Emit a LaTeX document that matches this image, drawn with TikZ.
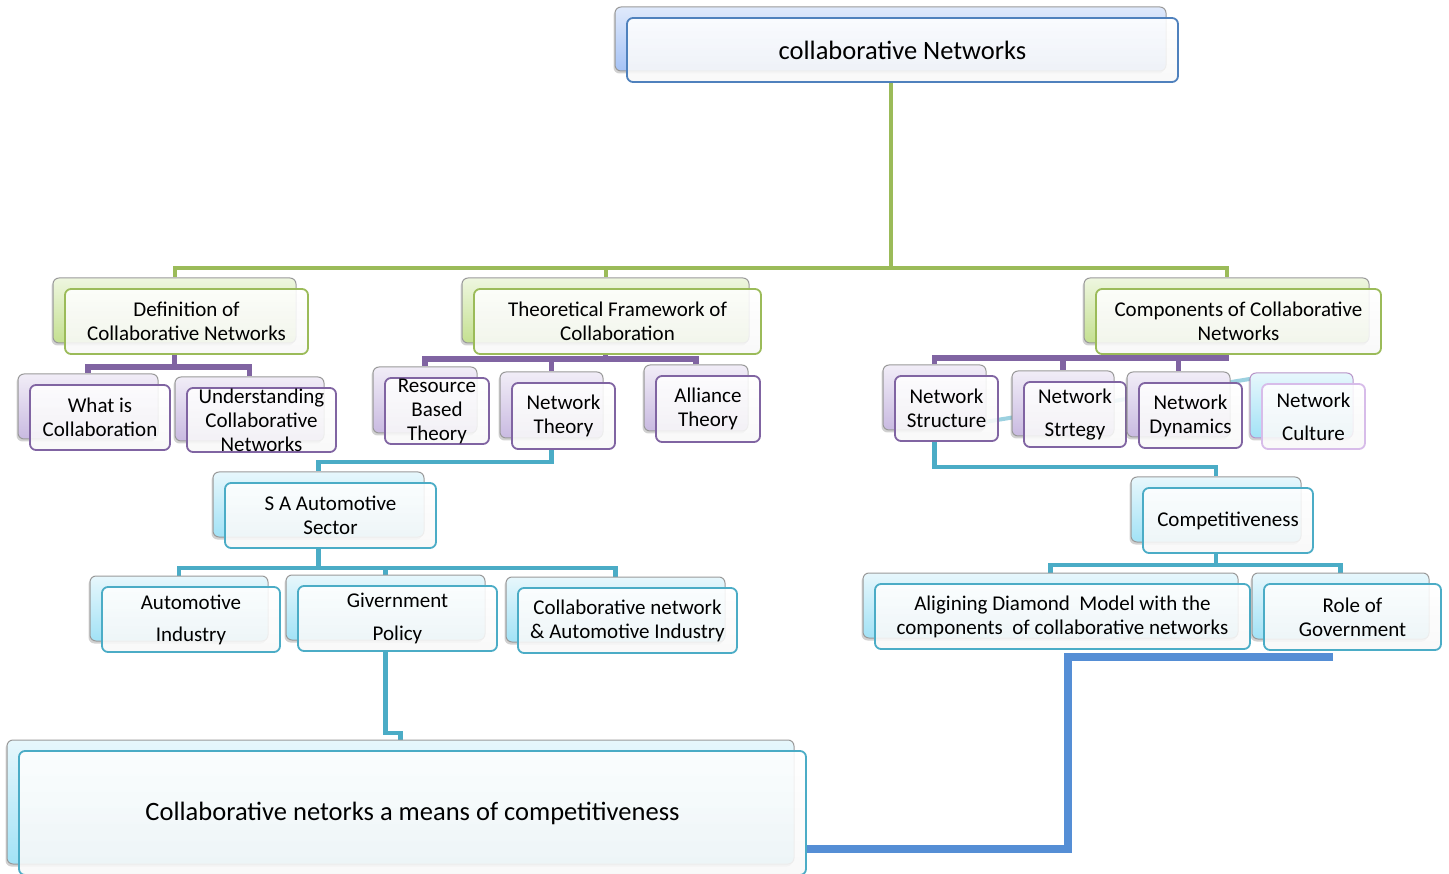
\documentclass[tikz,border=0pt]{standalone}
\usepackage{fontspec}
\setmainfont{Carlito}
\usetikzlibrary{shadows,calc}

% palette
\definecolor{grnLine}{HTML}{9BBB59}
\definecolor{grnPale}{HTML}{EEF6DF}
\definecolor{grnDeep}{HTML}{C4E090}
\definecolor{purLine}{HTML}{8064A2}
\definecolor{purPale}{HTML}{F1EDF7}
\definecolor{purDeep}{HTML}{C9BAE1}
\definecolor{tealLine}{HTML}{4BACC6}
\definecolor{tealPale}{HTML}{E7F7FC}
\definecolor{tealDeep}{HTML}{A2E2F6}
\definecolor{bluLine}{HTML}{4F81BD}
\definecolor{bluPale}{HTML}{DFE9FB}
\definecolor{bluDeep}{HTML}{A6C3F6}
\definecolor{conBlue}{HTML}{558ED5}
\definecolor{backEdge}{HTML}{9A9A9A}
\definecolor{lavEdge}{HTML}{D7BCE9}
\definecolor{pinkEdge}{HTML}{B894C8}

\pgfdeclarelayer{wires}
\pgfsetlayers{wires,main}

\tikzset{
  backbox/.style={rounded corners=6pt, draw=backEdge, line width=1pt, inner sep=0pt,
    drop shadow={shadow xshift=-1.5pt, shadow yshift=-2.5pt, opacity=.3, fill=black!60}},
  frontbox/.style={rounded corners=6pt, line width=1.8pt, inner sep=0pt,
    top color=white, bottom color=white!94!gray, fill opacity=.88, draw opacity=1},
  back grn/.style={backbox, top color=grnPale, bottom color=grnDeep},
  back pur/.style={backbox, top color=purPale, bottom color=purDeep},
  back teal/.style={backbox, top color=tealPale, bottom color=tealDeep},
  back blu/.style={backbox, top color=bluPale, bottom color=bluDeep},
  back cul/.style={backbox, draw=pinkEdge, top color=tealPale, bottom color=tealDeep},
  front grn/.style={frontbox, draw=grnLine},
  front pur/.style={frontbox, draw=purLine},
  front teal/.style={frontbox, draw=tealLine},
  front blu/.style={frontbox, draw=bluLine},
  front cul/.style={frontbox, draw=lavEdge},
  lbl/.style={align=center, inner sep=0pt, text=black, font=\fontsize{21}{24}\selectfont},
  biglbl/.style={font=\fontsize{26.5}{30}\selectfont},
  gline/.style={draw=grnLine, line width=4pt},
  pline/.style={draw=purLine, line width=5.5pt},
  tline/.style={draw=tealLine, line width=4.5pt},
  bline/.style={draw=conBlue, line width=7.5pt},
}

% #1 label options, #2 name, #3 palette, #4..#7 front box corners, #8 text
\newcommand\twinbox[8][]{%
  \pgfmathsetmacro\tbW{#6-#4}\pgfmathsetmacro\tbH{#7-#5}%
  \pgfmathsetmacro\tbX{(#4+#6)/2}\pgfmathsetmacro\tbY{(#5+#7)/2}%
  \node[back #3, minimum width=\tbW pt, minimum height=\tbH pt] (#2B) at (\tbX-12,\tbY-11) {};
  \node[front #3, minimum width=\tbW pt, minimum height=\tbH pt] (#2) at (\tbX,\tbY) {};
  \node[lbl,#1] (#2T) at (#2.center) {#8};
}

\begin{document}
\begin{tikzpicture}[x=1pt, y=-1pt]
\useasboundingbox (0,0) rectangle (1449,874);

% bus levels and free connector ends
\coordinate (gbus) at (0,268);
\coordinate (defBus) at (0,367);
\coordinate (theoBus) at (0,359);
\coordinate (compBus) at (0,358);
\coordinate (ntBus) at (0,462);
\coordinate (saBus) at (0,568);
\coordinate (govJog) at (0,733);
\coordinate (strBus) at (0,467);
\coordinate (cmpBus) at (0,565);
\coordinate (bEnd) at (1333,657);
\coordinate (bTurn) at (1068,849);
\coordinate (diagA) at (960,426);
\coordinate (diagB) at (1262,377);

% ---------- boxes ----------
\twinbox[biglbl]{root}{blu}{627}{18}{1178}{82}{collaborative Networks}

\twinbox{def}{grn}{65}{289}{308}{354}{Definition of\\Collaborative Networks}
\twinbox{theo}{grn}{474}{289}{761}{354}{Theoretical Framework of\\Collaboration}
\twinbox{comp}{grn}{1096}{289}{1381}{354}{Components of Collaborative\\Networks}

\twinbox{what}{pur}{30}{385}{170}{450}{What is\\Collaboration}
\twinbox{und}{pur}{187}{388}{336}{452}{Understanding\\Collaborative\\Networks}

\twinbox{res}{pur}{385}{378}{489}{444}{Resource\\Based\\Theory}
\twinbox{nt}{pur}{512}{383}{615}{449}{Network\\Theory}
\twinbox{all}{pur}{656}{376}{760}{442}{Alliance\\Theory}

\twinbox{str}{pur}{895}{376}{998}{441}{Network\\Structure}
\twinbox{stg}{pur}{1024}{382}{1126}{447}{Network\\[9pt]Strtegy}
\twinbox{dyn}{pur}{1139}{383}{1242}{448}{Network\\Dynamics}
\twinbox{cul}{cul}{1262}{384}{1365}{449}{Network\\[9pt]Culture}

\twinbox{sa}{teal}{225}{483}{436}{548}{S A Automotive\\Sector}
\twinbox{auto}{teal}{102}{587}{280}{652}{Automotive\\[8pt]Industry}
\twinbox{gov}{teal}{298}{586}{497}{651}{Givernment\\[9pt]Policy}
\twinbox{cna}{teal}{518}{588}{737}{653}{Collaborative network\\\& Automotive Industry}

\twinbox{cmp}{teal}{1143}{488}{1313}{553}{Competitiveness}
\twinbox{aln}{teal}{875}{584}{1250}{649}{Aligining Diamond~ Model with the\\components~ of collaborative networks}
\twinbox{role}{teal}{1264}{584}{1441}{650}{Role of\\Government}

\twinbox[biglbl]{fin}{teal}{19}{751}{806}{875}{Collaborative netorks a means of competitiveness}

% ---------- connectors, on a layer beneath the boxes ----------
\begin{pgfonlayer}{wires}
  % level 1
  \draw[gline] (rootB.south |- root.south) -- (rootB.south |- gbus) -| (defB.north);
  \draw[gline] (rootB.south |- gbus) -| (theoB.north);
  \draw[gline] (rootB.south |- gbus) -| (compB.north);
  % definition branch
  \draw[pline] (defB.south |- def.south) -- (defB.south |- defBus) -| (whatB.north);
  \draw[pline] (defB.south |- defBus) -| (undB.north);
  % theory branch
  \draw[pline] (theoB.south |- theo.south) -- (theoB.south |- theoBus) -| (resB.north);
  \draw[pline] (theoB.south |- theoBus) -| (ntB.north);
  \draw[pline] (theoB.south |- theoBus) -| (allB.north);
  % components branch
  \draw[pline] (compB.south |- comp.south) -- (compB.south |- compBus) -| (strB.north);
  \draw[pline] (compB.south |- compBus) -| (stgB.north);
  \draw[pline] (compB.south |- compBus) -| (dynB.north);
  \draw[draw=tealLine!55, line width=4pt] (diagA) -- (diagB);
  % network theory to the automotive sector
  \draw[tline] (ntB.south |- nt.south) -- (ntB.south |- ntBus) -| (saB.north);
  \draw[tline] (saB.south |- sa.south) -- (saB.south |- saBus) -| (autoB.north);
  \draw[tline] (saB.south |- saBus) -| (govB.north);
  \draw[tline] (saB.south |- saBus) -| (cnaB.north);
  \draw[tline] (govB.south |- gov.south) |- (finB.north |- govJog) -- (finB.north);
  % network structure to competitiveness
  \draw[tline] (strB.south |- str.south) -- (strB.south |- strBus) -| (cmpB.north);
  \draw[tline] (cmpB.south |- cmp.south) -- (cmpB.south |- cmpBus) -| (alnB.north);
  \draw[tline] (cmpB.south |- cmpBus) -| (roleB.north);
  % competitiveness back to the final box
  \draw[bline] (bEnd) -| (bTurn) -- (bTurn -| fin.east);
\end{pgfonlayer}
\end{tikzpicture}
\end{document}
